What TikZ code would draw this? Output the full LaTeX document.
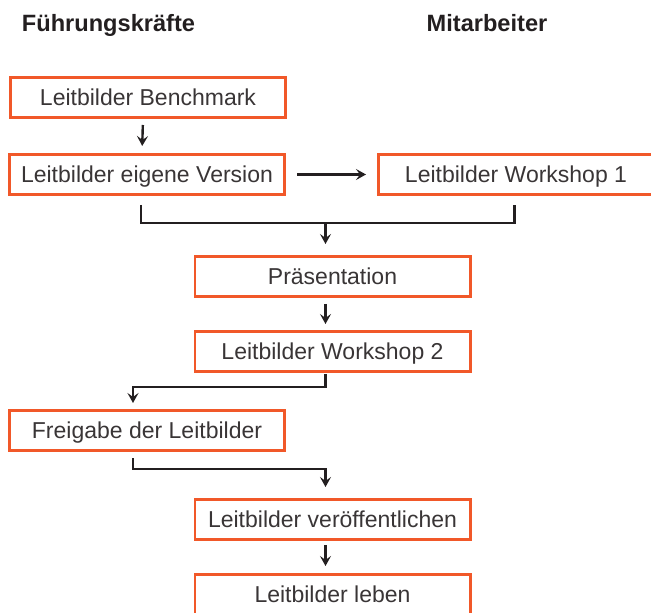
\documentclass[tikz,border=0pt]{standalone}
\usepackage{fontspec}
\setmainfont{Liberation Sans}
\usetikzlibrary{arrows.meta}
\definecolor{mora}{RGB}{241, 88, 41}
\definecolor{mgray}{RGB}{35, 31, 32}

\begin{document}
\begin{tikzpicture}[x=0.5pt, y=-0.5pt,
    box/.style={draw=mora, line width=1.4pt, text=mgray!90, minimum width=137.6pt,
      minimum height=20.1pt, inner sep=0pt, text height=8.2pt, text depth=0pt,
      font=\fontsize{11.5}{13}\selectfont},
    head/.style={anchor=base, text=mgray, font=\fontsize{11.8}{14}\selectfont\bfseries},
    line/.style={draw=mgray, line width=1.2pt},
    conn/.style={line, -{Stealth[length=5pt, width=5.5pt, inset=2pt]}}]
      \useasboundingbox (0, 0) rectangle (651, 613);
      % columns
      \node [head] (fk) at (108.5, 32) {Führungskräfte};
      \node [head] (ma) at (487, 32) {Mitarbeiter};
      % boxes
      \node [box] (bench) at (148, 97.5) {Leitbilder Benchmark};
      \node [box] (eigen) at (147, 174.5) {Leitbilder eigene Version};
      \node [box] (ws1) at (516, 174.5) {Leitbilder Workshop 1};
      \node [box] (praes) at (332.5, 276.5) {Präsentation};
      \node [box] (ws2) at (332.5, 351.5) {Leitbilder Workshop 2};
      \node [box] (freig) at (147, 430.5) {Freigabe der Leitbilder};
      \node [box] (veroeff) at (332.5, 519.5) {Leitbilder veröffentlichen};
      \node [box] (leben) at (332.5, 594.5) {Leitbilder leben};
      % bends
      \coordinate (m1) at (325.5, 223);
      \coordinate (m2) at (325.5, 387);
      \coordinate (m3) at (133, 469);
      % connectors
      \draw [conn, shorten <=3pt, shorten >=3.5pt] ([xshift=-2.5pt]bench.south) -- ([xshift=-2.5pt]eigen.north);
      \draw [conn, shorten <=5.5pt, shorten >=5.5pt] (eigen.east) -- (ws1.west);
      \draw [line, shorten <=4.5pt, shorten >=4.5pt] ([xshift=-3pt]eigen.south) |- (m1) -| ([xshift=-0.75pt]ws1.south);
      \draw [conn, shorten >=5.5pt] (m1) -- ([xshift=-3.5pt]praes.north);
      \draw [conn, shorten <=3pt, shorten >=3pt] ([xshift=-3.5pt]praes.south) -- ([xshift=-3.5pt]ws2.north);
      \draw [conn, shorten <=0.5pt, shorten >=3pt] ([xshift=-3.5pt]ws2.south) -- (m2) -| ([xshift=-7pt]freig.north);
      \draw [conn, shorten <=3pt, shorten >=5.5pt] ([xshift=-7pt]freig.south) -- (m3) -| ([xshift=-3.5pt]veroeff.north);
      \draw [conn, shorten <=2pt, shorten >=3.5pt] ([xshift=-3.5pt]veroeff.south) -- ([xshift=-3.5pt]leben.north);
    \end{tikzpicture}
\end{document}
